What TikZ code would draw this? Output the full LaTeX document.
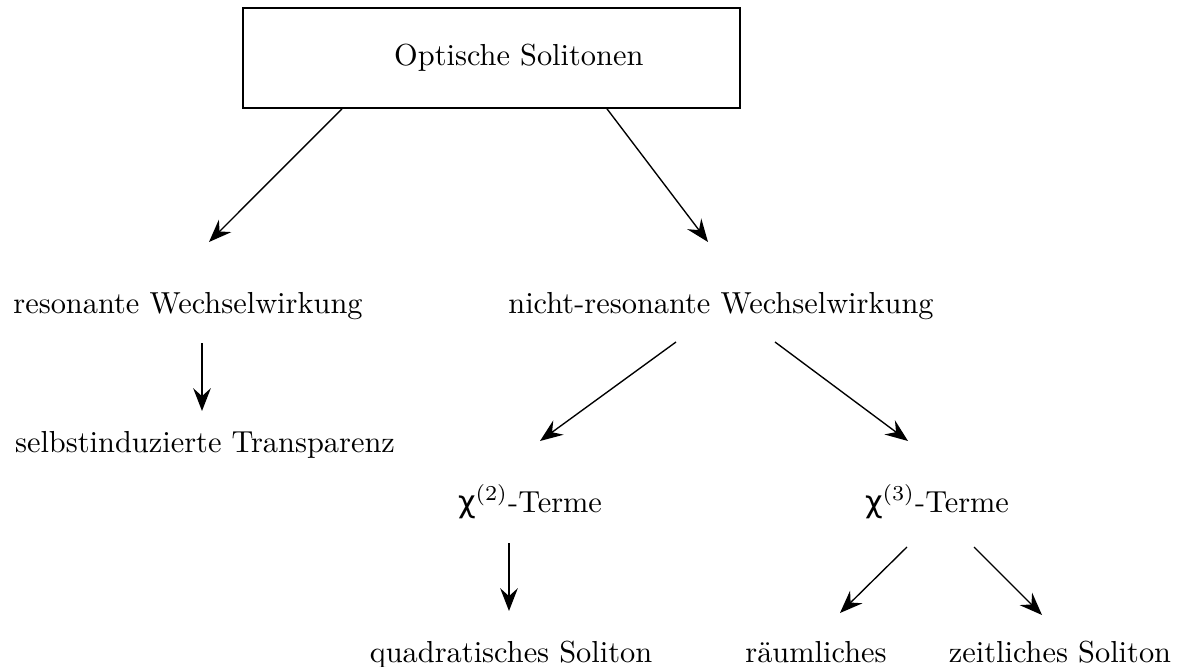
\documentclass[tikz,border=0pt]{standalone}
\usepackage{fontspec}
\newfontfamily\grk{DejaVu Sans}
\usetikzlibrary{arrows.meta,calc}

\begin{document}
\begin{tikzpicture}[x=0.329pt, y=-0.329pt,
    every node/.style={inner sep=0pt, anchor=base},
    topbox/.style={draw, line width=0.55pt, anchor=center, minimum width=163.5pt, minimum height=32.9pt},
    arr/.style={-{Stealth[length=7.5pt, width=5.8pt, inset=2.6pt]}, line width=0.45pt}]
    \useasboundingbox (0,0) rectangle (1187,667);
    % boxes and labels
    \node[topbox] (opt) at (491.5,58) {\hspace*{18pt}Optische Solitonen};
    \node (res) at (188,313) {resonante Wechselwirkung};
    \node (nres) at (721,313) {nicht-resonante Wechselwirkung};
    \node (sit) at (205,452) {selbstinduzierte Transparenz};
    \node (chi2) at (530,512) {{\grk χ}$^{(2)}$-Terme};
    \node (chi3) at (937,512) {{\grk χ}$^{(3)}$-Terme};
    \node (quad) at (511,662) {quadratisches Soliton};
    \node (raum) at (816,662) {räumliches};
    \node (zeit) at (1060,662) {zeitliches Soliton};
    % arrows
    \draw[arr] ($(opt.south)+(-149.5,0)$) -- ($(res.base)+(21,-71)$);
    \draw[arr] ($(opt.south)+(115.5,0)$) -- ($(nres.base)+(-13,-71)$);
    \draw[arr] ($(res.base)+(14,30)$) -- ($(sit.base)+(-3,-41)$);
    \draw[arr] ($(nres.base)+(-45,29)$) -- ($(chi2.base)+(10,-71)$);
    \draw[arr] ($(nres.base)+(54,29)$) -- ($(chi3.base)+(-29,-71)$);
    \draw[arr] ($(chi2.base)+(-21,31)$) -- ($(quad.base)+(-2,-51)$);
    \draw[arr] ($(chi3.base)+(-30,35)$) -- ($(raum.base)+(24,-49)$);
    \draw[arr] ($(chi3.base)+(37,35)$) -- ($(zeit.base)+(-18,-47)$);
\end{tikzpicture}
\end{document}
